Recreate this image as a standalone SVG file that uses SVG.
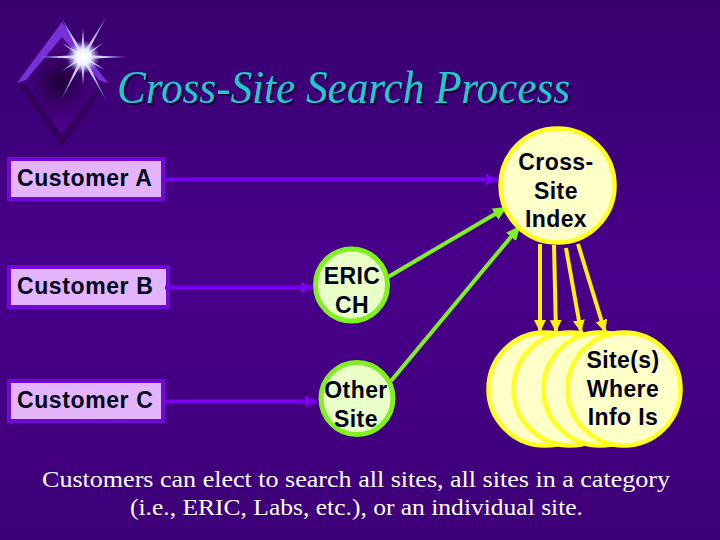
<svg xmlns="http://www.w3.org/2000/svg" width="720" height="540" viewBox="0 0 720 540">
<defs>
<linearGradient id="bg" x1="0" y1="0" x2="0" y2="1"><stop offset="0" stop-color="#38006e"/><stop offset="0.5" stop-color="#48008a"/><stop offset="1" stop-color="#3e0078"/></linearGradient>
<radialGradient id="dark" gradientUnits="userSpaceOnUse" cx="60" cy="82" r="42"><stop offset="0" stop-color="#1e0038"/><stop offset="0.55" stop-color="#3a006c"/><stop offset="1" stop-color="#4a0088"/></radialGradient>
<radialGradient id="glow"><stop offset="0" stop-color="#ffffff"/><stop offset="0.45" stop-color="#f0f0fa"/><stop offset="0.7" stop-color="#c8c8f8" stop-opacity="0.6"/><stop offset="1" stop-color="#8080e0" stop-opacity="0"/></radialGradient>
<radialGradient id="sg" gradientUnits="userSpaceOnUse" cx="83" cy="57" r="50"><stop offset="0" stop-color="#ffffff"/><stop offset="0.35" stop-color="#d8d8ff"/><stop offset="1" stop-color="#4848c0"/></radialGradient>
<marker id="ap" markerUnits="userSpaceOnUse" markerWidth="14" markerHeight="14" refX="12" refY="6" orient="auto"><path d="M0 0L12 6L0 12Z" fill="#7a00f0"/></marker>
<marker id="ag" markerUnits="userSpaceOnUse" markerWidth="16" markerHeight="14" refX="14" refY="6.5" orient="auto"><path d="M0 0L14 6.5L0 13Z" fill="#80f020"/></marker>
<marker id="ay" markerUnits="userSpaceOnUse" markerWidth="14" markerHeight="14" refX="12" refY="6" orient="auto"><path d="M0 0L12 6L0 12Z" fill="#ffee10"/></marker>
<filter id="sh" x="-5%" y="-20%" width="110%" height="140%"><feDropShadow dx="2" dy="2" stdDeviation="0.6" flood-color="#140038"/></filter>
</defs>
<style>
.box{fill:#e4b4fa;stroke:#7208d8;stroke-width:4}
.lbl{font-family:"Liberation Sans",Arial,sans-serif;font-weight:700;font-size:23px;fill:#000018;text-anchor:middle;letter-spacing:.4px}
.cust{font-family:"Liberation Sans",Arial,sans-serif;font-weight:700;font-size:23px;fill:#000018;letter-spacing:.6px}
.gc{fill:#eaffc8;stroke:#80f020;stroke-width:5}
.yc{fill:#ffffc8;stroke:#ffff20;stroke-width:4.500}
.pl{stroke:#7a00f0;stroke-width:4;fill:none;marker-end:url(#ap)}
.gl{stroke:#80f020;stroke-width:4;fill:none;marker-end:url(#ag)}
.yl{stroke:#ffee10;stroke-width:4;fill:none;marker-end:url(#ay)}
.title{font-family:"Liberation Serif",serif;font-style:italic;font-size:46px;fill:#20c8d0;filter:url(#sh)}
.foot{font-family:"Liberation Serif",serif;font-size:24px;fill:#fff}
</style>
<rect width="720" height="540" fill="url(#bg)"/>
<g id="logo">
<path d="M62 22L108 83L62 147L17 83Z" fill="url(#dark)"/>
<path d="M62 22L108 83L99 80L62 37L26 80L17 83Z" fill="#7a30d8"/>
<path d="M17 83L62 147L108 83L99 84L62 135L26 84Z" fill="#34005f"/>
<g fill="url(#sg)">
<path d="M37 57L83 55L128 57L83 59Z"/>
<path d="M83 28L85 57L83 85L81 57Z"/>
<path d="M61 17L84.500 56L107 102L81.500 58Z"/>
<path d="M107 16L84.500 58L61 100L81.500 56Z"/>
<path d="M62 43L84 56L105 70L82 58Z"/>
<path d="M103 43L84 58L62 71L82 56Z"/>
</g>
<circle cx="83" cy="57" r="17" fill="url(#glow)"/>
</g>
<text id="title" class="title" x="117" y="103" textLength="453" lengthAdjust="spacingAndGlyphs">Cross-Site Search Process</text>
<g id="customer-a"><rect class="box" x="9" y="159" width="154" height="40"/><text class="cust" x="17" y="186">Customer A</text></g>
<g id="customer-b"><rect class="box" x="9" y="267" width="159" height="40"/><text class="cust" x="17" y="294">Customer B</text></g>
<g id="customer-c"><rect class="box" x="9" y="381" width="154" height="40"/><text class="cust" x="17" y="408">Customer C</text></g>
<g id="connectors">
<path class="pl" d="M165 179.500H498"/>
<path class="pl" d="M165 287.500H313"/>
<path class="pl" d="M165 401.500H317"/>
<path class="gl" d="M388 277L507 207"/>
<path class="gl" d="M391 381L520 226"/>
</g>
<g id="site1"><circle class="yc" cx="545" cy="389" r="56.500"/></g>
<g id="site2"><circle class="yc" cx="570" cy="389" r="56.500"/></g>
<g id="site3"><circle class="yc" cx="600" cy="389" r="56.500"/></g>
<g id="site4"><circle class="yc" cx="624" cy="389" r="56.500"/>
<text class="lbl" x="623" y="368">Site(s)</text><text class="lbl" x="623" y="397">Where</text><text class="lbl" x="623" y="425">Info Is</text></g>
<g id="yellow-connectors">
<path class="yl" d="M540 244V332"/>
<path class="yl" d="M554 245L556 332"/>
<path class="yl" d="M566 248L581 332"/>
<path class="yl" d="M578 244L605 332"/>
</g>
<g id="eric"><circle class="gc" cx="351.500" cy="285" r="36"/><text class="lbl" x="352" y="284">ERIC</text><text class="lbl" x="352" y="313">CH</text></g>
<g id="other"><circle class="gc" cx="357" cy="398.500" r="36"/><text class="lbl" x="356" y="398">Other</text><text class="lbl" x="356" y="427">Site</text></g>
<g id="index"><circle class="yc" cx="557.500" cy="185.500" r="57"/>
<text class="lbl" x="556" y="170">Cross-</text><text class="lbl" x="556" y="199">Site</text><text class="lbl" x="556" y="227">Index</text></g>
<text class="foot" x="42" y="487" textLength="628" lengthAdjust="spacingAndGlyphs">Customers can elect to search all sites, all sites in a category</text>
<text class="foot" x="130" y="515" textLength="453" lengthAdjust="spacingAndGlyphs">(i.e., ERIC, Labs, etc.), or an individual site.</text>
</svg>
